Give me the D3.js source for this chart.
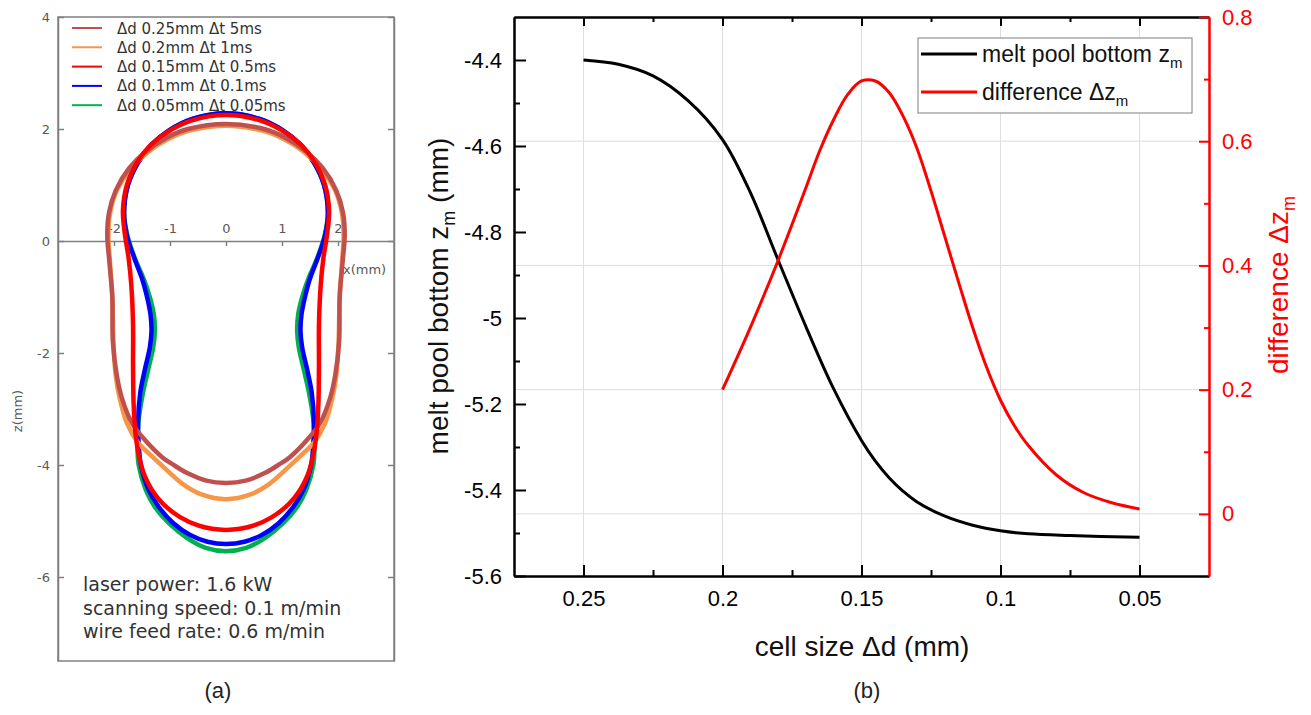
<!DOCTYPE html>
<html>
<head>
<meta charset="utf-8">
<script src="https://cdn.jsdelivr.net/npm/d3@7"></script>
<style>
body { margin: 0; background: #fff; }
</style>
</head>
<body>
<svg id="fig" width="1311" height="715"></svg>
<script>
// ---- panel (a): right-half melt pool profiles [x mm, z mm], top -> bottom (mirrored when drawn)
const prof025 = [[0, 2.09], [0.68, 2.0], [1.05, 1.85], [1.43, 1.6], [1.73, 1.3], [1.97, 0.9], [2.09, 0.5], [2.12, 0.1], [2.08, -0.4], [2.03, -1.0], [2.02, -1.8], [1.95, -2.4], [1.86, -2.8], [1.68, -3.25], [1.45, -3.55], [1.14, -3.86], [0.95, -3.99], [0.7, -4.14], [0.35, -4.28], [0, -4.32]]
const prof02 = [[0, 2.06], [0.65, 1.97], [1.03, 1.82], [1.38, 1.6], [1.69, 1.3], [1.95, 0.9], [2.07, 0.5], [2.1, 0.1], [2.07, -0.4], [2.03, -1.0], [2.01, -1.8], [1.97, -2.4], [1.9, -2.8], [1.77, -3.25], [1.57, -3.6], [1.35, -3.82], [1.08, -4.07], [0.77, -4.34], [0.45, -4.52], [0, -4.61]]
const prof015 = [[0, 2.25], [0.62, 2.15], [1.04, 1.95], [1.36, 1.7], [1.59, 1.4], [1.77, 1.0], [1.84, 0.55], [1.81, 0.15], [1.74, -0.3], [1.69, -0.8], [1.66, -1.5], [1.66, -2.2], [1.65, -2.9], [1.62, -3.4], [1.55, -3.86], [1.45, -4.2], [1.32, -4.45], [1.12, -4.7], [0.82, -4.93], [0.5, -5.08], [0.25, -5.14], [0, -5.16]]
const prof01 = [[0, 2.28], [0.6, 2.18], [1.01, 1.98], [1.33, 1.72], [1.57, 1.4], [1.75, 1.0], [1.82, 0.5], [1.77, 0.1], [1.64, -0.3], [1.49, -0.7], [1.41, -1.0], [1.35, -1.3], [1.33, -1.6], [1.36, -1.9], [1.45, -2.3], [1.53, -2.7], [1.57, -3.2], [1.56, -3.6], [1.52, -4.0], [1.38, -4.45], [1.2, -4.75], [0.94, -5.04], [0.64, -5.25], [0.33, -5.37], [0, -5.41]]
const prof005 = [[0, 2.28], [0.6, 2.18], [1.01, 1.98], [1.33, 1.72], [1.57, 1.4], [1.75, 1.0], [1.82, 0.5], [1.76, 0.1], [1.63, -0.3], [1.46, -0.7], [1.36, -1.0], [1.29, -1.3], [1.27, -1.6], [1.3, -1.9], [1.39, -2.3], [1.48, -2.7], [1.56, -3.2], [1.58, -3.6], [1.56, -4.0], [1.43, -4.45], [1.27, -4.75], [1.02, -5.04], [0.7, -5.3], [0.36, -5.48], [0, -5.54]]

const legendLabels = ["Δd 0.25mm Δt 5ms", "Δd 0.2mm Δt 1ms", "Δd 0.15mm Δt 0.5ms", "Δd 0.1mm Δt 0.1ms", "Δd 0.05mm Δt 0.05ms"]
const legendColors = ["#c0504d", "#f79646", "#ff0000", "#0000ff", "#00b050"]
const profiles = [prof025, prof02, prof015, prof01, prof005]
const drawOrder = [4, 3, 1, 0, 2]
const notes = ["laser power: 1.6 kW", "scanning speed: 0.1 m/min", "wire feed rate: 0.6 m/min"]

// ---- panel (b)
const bottomCell = [0.25, 0.2375, 0.225, 0.2125, 0.2, 0.19, 0.18, 0.17, 0.16, 0.15, 0.145, 0.14, 0.135, 0.13, 0.12, 0.11, 0.1, 0.09, 0.075, 0.05]
const bottomZ = [-4.400, -4.410, -4.437, -4.494, -4.585, -4.708, -4.865, -5.020, -5.165, -5.285, -5.333, -5.372, -5.403, -5.428, -5.461, -5.482, -5.495, -5.502, -5.506, -5.510]
const diffCell = [0.2, 0.19, 0.18, 0.17, 0.165, 0.16, 0.155, 0.15, 0.145, 0.14, 0.135, 0.13, 0.125, 0.12, 0.115, 0.11, 0.105, 0.1, 0.095, 0.09, 0.08, 0.07, 0.06, 0.05]
const diffZ = [0.200, 0.300, 0.408, 0.525, 0.585, 0.635, 0.675, 0.697, 0.697, 0.678, 0.640, 0.588, 0.520, 0.446, 0.372, 0.300, 0.236, 0.183, 0.142, 0.110, 0.063, 0.034, 0.018, 0.008]

const xTicksB = [0.25, 0.2, 0.15, 0.1, 0.05]
const xMinorB = [0.225, 0.175, 0.125, 0.075]
const yTicksB = [-5.6, -5.4, -5.2, -5, -4.8, -4.6, -4.4]
const yMinorB = [-5.5, -5.3, -5.1, -4.9, -4.7, -4.5]
const rTicksB = [0, 0.2, 0.4, 0.6, 0.8]
const rMinorB = [0.1, 0.3, 0.5, 0.7]

let svg = d3.select("#fig")
let fmt = d => String(+d.toFixed(3))

// ================= panel (a) =================
let xA = d3.scaleLinear().domain([-3, 3]).range([58, 394])
let yA = d3.scaleLinear().domain([-7.5, 4]).range([661, 17])
let pa = svg.append("g")
let grey = "#808080"

pa.append("rect")
    .attr("x", xA(-3)).attr("y", yA(4))
    .attr("width", xA(3) - xA(-3)).attr("height", yA(-7.5) - yA(4))
    .attr("fill", "none").attr("stroke", grey).attr("stroke-width", 1.5)

let axL = pa.append("g")
    .attr("transform", "translate(" + xA(-3) + ",0)")
    .call(d3.axisLeft(yA).tickValues([-6, -4, -2, 0, 2, 4]).tickFormat(fmt).tickSize(-6).tickPadding(8).tickSizeOuter(0))
let axR = pa.append("g")
    .attr("transform", "translate(" + xA(3) + ",0)")
    .call(d3.axisRight(yA).tickValues([-6, -4, -2, 0, 2, 4]).tickFormat("").tickSize(-6).tickSizeOuter(0))
let axX = pa.append("g")
    .attr("transform", "translate(0," + yA(0) + ")")
    .call(d3.axisTop(xA).tickValues([-2, -1, 0, 1, 2]).tickFormat(fmt).tickSize(-5).tickPadding(8).tickSizeOuter(0))
for (let a of [axL, axR, axX]) {
    a.selectAll("path").attr("stroke", grey).attr("stroke-width", 1.5)
    a.selectAll("line").attr("stroke", grey).attr("stroke-width", 1.5)
    a.selectAll("text").attr("fill", "#595959").attr("font-family", "DejaVu Sans").attr("font-size", 13)
}
pa.append("text").attr("x", 343).attr("y", 274)
    .attr("font-family", "DejaVu Sans").attr("font-size", 13).attr("fill", "#595959").text("x(mm)")
pa.append("text").attr("transform", "translate(22,411) rotate(-90)").attr("text-anchor", "middle")
    .attr("font-family", "DejaVu Sans").attr("font-size", 13).attr("fill", "#595959").text("z(mm)")

let contour = d3.line()
    .x(d => xA(d[0]))
    .y(d => yA(d[1]))
    .curve(d3.curveCatmullRomClosed.alpha(0.5))

function fullLoop(half) {
    let left = half.slice(1, -1).map(p => [-p[0], p[1]]).reverse()
    return half.concat(left)
}

for (let i of drawOrder) {
    pa.append("path")
        .datum(fullLoop(profiles[i]))
        .attr("d", contour)
        .attr("fill", "none")
        .attr("stroke", legendColors[i])
        .attr("stroke-width", 4.5)
        .attr("stroke-linejoin", "round")
}

legendLabels.forEach((lab, i) => {
    let y = 28 + i * 19.3
    pa.append("line").attr("x1", 72).attr("x2", 102).attr("y1", y).attr("y2", y)
        .attr("stroke", legendColors[i]).attr("stroke-width", 2)
    pa.append("text").attr("x", 117).attr("y", y + 5.5)
        .attr("font-family", "DejaVu Sans").attr("font-size", 15).attr("fill", "#333").text(lab)
})

notes.forEach((t, i) => {
    pa.append("text").attr("x", 83).attr("y", 591 + i * 23.5)
        .attr("font-family", "DejaVu Sans").attr("font-size", 19).attr("fill", "#333").text(t)
})

svg.append("text").attr("x", 218).attr("y", 698).attr("text-anchor", "middle")
    .attr("font-family", "Liberation Sans").attr("font-size", 22).attr("fill", "#222").text("(a)")

// ================= panel (b) =================
let xB = d3.scaleLinear().domain([0.275, 0.025]).range([514, 1209])
let yB = d3.scaleLinear().domain([-5.6, -4.3]).range([576, 17])
let yR = d3.scaleLinear().domain([-0.1, 0.8]).range([576, 17])
let pb = svg.append("g").attr("font-family", "Liberation Sans")

// grid
pb.selectAll(".vgrid").data(xTicksB).join("line")
    .attr("x1", d => xB(d)).attr("x2", d => xB(d)).attr("y1", 17).attr("y2", 576)
    .attr("stroke", "#dedede").attr("stroke-width", 1)
pb.selectAll(".hgrid").data(rTicksB.slice(0, 4)).join("line")
    .attr("x1", 514).attr("x2", 1209).attr("y1", d => yR(d)).attr("y2", d => yR(d))
    .attr("stroke", "#dedede").attr("stroke-width", 1)

function styleAxis(g, col) {
    g.selectAll("path").attr("stroke", col).attr("stroke-width", 2)
    g.selectAll("line").attr("stroke", col).attr("stroke-width", 2)
    g.selectAll("text").attr("fill", col).attr("font-family", "Liberation Sans").attr("font-size", 22)
}

let bAx = pb.append("g").attr("transform", "translate(0,576)")
    .call(d3.axisBottom(xB).tickValues(xTicksB).tickFormat(fmt).tickSize(-11).tickPadding(14).tickSizeOuter(0))
let bMin = pb.append("g").attr("transform", "translate(0,576)")
    .call(d3.axisBottom(xB).tickValues(xMinorB).tickFormat("").tickSize(-6).tickSizeOuter(0))
let tAx = pb.append("g").attr("transform", "translate(0,17)")
    .call(d3.axisTop(xB).tickValues(xTicksB).tickFormat("").tickSize(-9).tickSizeOuter(0))
let tMin = pb.append("g").attr("transform", "translate(0,17)")
    .call(d3.axisTop(xB).tickValues(xMinorB).tickFormat("").tickSize(-5).tickSizeOuter(0))
let lAx = pb.append("g").attr("transform", "translate(514,0)")
    .call(d3.axisLeft(yB).tickValues(yTicksB).tickFormat(fmt).tickSize(-12).tickPadding(12).tickSizeOuter(0))
let lMin = pb.append("g").attr("transform", "translate(514,0)")
    .call(d3.axisLeft(yB).tickValues(yMinorB).tickFormat("").tickSize(-6).tickSizeOuter(0))
for (let g of [bAx, bMin, tAx, tMin, lAx, lMin]) styleAxis(g, "#000")

let rAx = pb.append("g").attr("transform", "translate(1209,0)")
    .call(d3.axisRight(yR).tickValues(rTicksB).tickFormat(fmt).tickSize(-10).tickPadding(13).tickSizeOuter(0))
let rMin = pb.append("g").attr("transform", "translate(1209,0)")
    .call(d3.axisRight(yR).tickValues(rMinorB).tickFormat("").tickSize(-5).tickSizeOuter(0))
for (let g of [rAx, rMin]) styleAxis(g, "#ff0000")

// series
let bottomLine = d3.line()
    .x((d, i) => xB(bottomCell[i]))
    .y(d => yB(d))
    .curve(d3.curveCatmullRom.alpha(0.5))
pb.append("path").datum(bottomZ).attr("d", bottomLine)
    .attr("fill", "none").attr("stroke", "#000").attr("stroke-width", 3)

let diffLine = d3.line()
    .x((d, i) => xB(diffCell[i]))
    .y(d => yR(d))
    .curve(d3.curveCatmullRom.alpha(0.5))
pb.append("path").datum(diffZ).attr("d", diffLine)
    .attr("fill", "none").attr("stroke", "#ff0000").attr("stroke-width", 3)

// legend
pb.append("rect").attr("x", 918).attr("y", 38).attr("width", 274).attr("height", 75)
    .attr("fill", "#fff").attr("stroke", "#7f7f7f").attr("stroke-width", 1)
let legB = [["melt pool bottom z", "#000", 54], ["difference Δz", "#ff0000", 92]]
legB.forEach(l => {
    pb.append("line").attr("x1", 921).attr("x2", 977).attr("y1", l[2]).attr("y2", l[2])
        .attr("stroke", l[1]).attr("stroke-width", 3)
    let t = pb.append("text").attr("x", 982).attr("y", l[2] + 8).attr("font-size", 23).attr("fill", "#111")
    t.append("tspan").text(l[0])
    t.append("tspan").attr("dy", 6).attr("font-size", 15).text("m")
})

// axis titles
pb.append("text").attr("x", 862).attr("y", 656).attr("text-anchor", "middle")
    .attr("font-size", 28).attr("fill", "#111").text("cell size Δd (mm)")
let ylt = pb.append("text").attr("transform", "translate(448,296) rotate(-90)").attr("text-anchor", "middle")
    .attr("font-size", 28).attr("fill", "#111")
ylt.append("tspan").text("melt pool bottom z")
ylt.append("tspan").attr("dy", 7).attr("font-size", 18).text("m")
ylt.append("tspan").attr("dy", -7).text(" (mm)")
let yrt = pb.append("text").attr("transform", "translate(1288,285) rotate(-90)").attr("text-anchor", "middle")
    .attr("font-size", 28).attr("fill", "#ff0000")
yrt.append("tspan").text("difference Δz")
yrt.append("tspan").attr("dy", 7).attr("font-size", 18).text("m")

svg.append("text").attr("x", 867).attr("y", 698).attr("text-anchor", "middle")
    .attr("font-family", "Liberation Sans").attr("font-size", 22).attr("fill", "#222").text("(b)")
</script>
</body>
</html>
